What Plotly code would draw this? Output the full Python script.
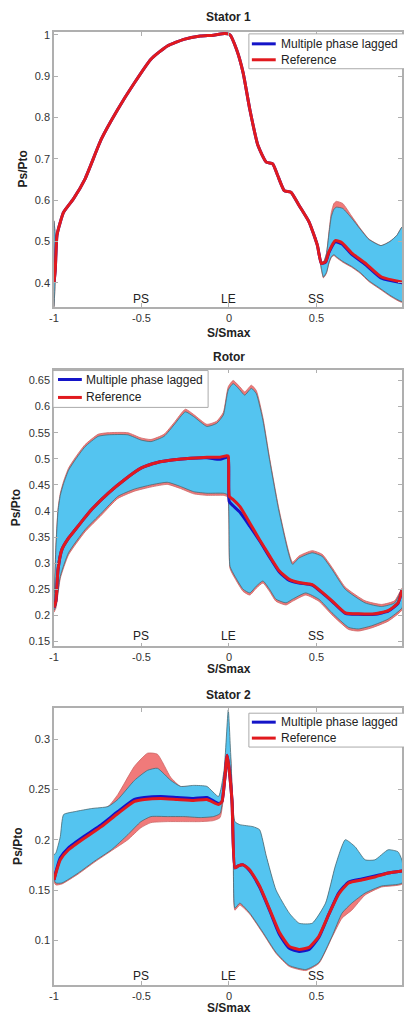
import plotly.graph_objects as go

# ---------------- data ----------------
# Stator 1
s1_xm = [-1.0, -0.993, -0.983, -0.964, -0.945, -0.889, -0.823, -0.729, -0.635, -0.54, -0.446, -0.352,
         -0.258, -0.164, -0.089, -0.023, 0.006, 0.043, 0.081, 0.119, 0.166, 0.213, 0.25, 0.279, 0.316,
         0.354, 0.401, 0.458, 0.505, 0.528, 0.552, 0.571, 0.608, 0.646, 0.702, 0.778, 0.872, 0.99]
s1_ref = [0.40, 0.43, 0.515, 0.547, 0.571, 0.603, 0.651, 0.748, 0.820, 0.884, 0.941, 0.973,
          0.989, 0.997, 0.999, 1.003, 1.0, 0.965, 0.908, 0.820, 0.732, 0.692, 0.688, 0.659, 0.623,
          0.619, 0.587, 0.547, 0.491, 0.447, 0.451, 0.475, 0.502, 0.497, 0.472, 0.448, 0.414, 0.402]
s1_mpl = [0.40, 0.43, 0.515, 0.547, 0.571, 0.603, 0.651, 0.748, 0.820, 0.884, 0.941, 0.973,
          0.989, 0.997, 0.999, 1.003, 1.0, 0.965, 0.908, 0.820, 0.732, 0.692, 0.688, 0.659, 0.623,
          0.619, 0.587, 0.547, 0.491, 0.447, 0.450, 0.473, 0.499, 0.494, 0.469, 0.445, 0.411, 0.400]
s1_lx = [-1.0, -0.994]
s1_lu = [0.55, 0.52]
s1_ll = [0.34, 0.40]
s1_bx = [0.495, 0.515, 0.528, 0.54, 0.557, 0.572, 0.585, 0.6, 0.614, 0.65, 0.70, 0.75, 0.80, 0.869, 0.92, 0.96, 0.99]
s1_bu = [0.51, 0.478, 0.452, 0.45, 0.47, 0.52, 0.56, 0.578, 0.583, 0.58, 0.557, 0.53, 0.505, 0.49, 0.50, 0.515, 0.535]
s1_ru = [0.51, 0.478, 0.452, 0.45, 0.47, 0.525, 0.57, 0.592, 0.597, 0.592, 0.562, 0.532, 0.506, 0.49, 0.50, 0.515, 0.535]
s1_bl = [0.51, 0.475, 0.435, 0.414, 0.425, 0.45, 0.463, 0.468, 0.463, 0.452, 0.44, 0.425, 0.405, 0.385, 0.37, 0.36, 0.355]
s1_rl = [0.51, 0.475, 0.433, 0.412, 0.423, 0.448, 0.461, 0.466, 0.461, 0.45, 0.438, 0.423, 0.403, 0.383, 0.368, 0.358, 0.353]

# Rotor
r_xm = [-1.0, -0.989, -0.977, -0.955, -0.917, -0.879, -0.832, -0.785, -0.691, -0.597, -0.503, -0.409,
        -0.314, -0.22, -0.126, -0.051, -0.013, -0.004, 0.002, 0.024, 0.062, 0.119, 0.175, 0.232, 0.288,
        0.345, 0.401, 0.476, 0.533, 0.589, 0.665, 0.74, 0.834, 0.91, 0.966, 0.99]
r_ref = [0.215, 0.228, 0.288, 0.326, 0.348, 0.364, 0.384, 0.403, 0.434, 0.46, 0.482, 0.493,
         0.498, 0.501, 0.503, 0.503, 0.506, 0.505, 0.428, 0.422, 0.409, 0.377, 0.345, 0.314, 0.285,
         0.269, 0.263, 0.259, 0.244, 0.228, 0.205, 0.203, 0.203, 0.209, 0.224, 0.25]
r_mpl = [0.215, 0.228, 0.288, 0.326, 0.348, 0.364, 0.384, 0.403, 0.434, 0.46, 0.482, 0.493,
         0.498, 0.501, 0.502, 0.499, 0.503, 0.502, 0.418, 0.410, 0.398, 0.371, 0.343, 0.312, 0.283,
         0.267, 0.262, 0.258, 0.243, 0.227, 0.204, 0.202, 0.202, 0.208, 0.223, 0.25]
r_xu = [-1.0, -0.989, -0.977, -0.964, -0.945, -0.917, -0.879, -0.823, -0.748, -0.691, -0.578, -0.503,
        -0.446, -0.371, -0.314, -0.249, -0.202, -0.126, -0.07, -0.032, -0.004, 0.024, 0.062, 0.09,
        0.128, 0.156, 0.194, 0.232, 0.288, 0.363, 0.401, 0.476, 0.533, 0.589, 0.665, 0.778, 0.872, 0.947, 0.99]
r_bu = [0.22, 0.33, 0.40, 0.43, 0.453, 0.478, 0.498, 0.523, 0.543, 0.546, 0.546, 0.536,
        0.533, 0.543, 0.565, 0.590, 0.581, 0.562, 0.568, 0.584, 0.632, 0.644, 0.632, 0.622,
        0.635, 0.625, 0.574, 0.498, 0.396, 0.298, 0.310, 0.320, 0.313, 0.288, 0.250, 0.224, 0.217, 0.224, 0.25]
r_ru = [0.22, 0.334, 0.404, 0.434, 0.457, 0.482, 0.502, 0.527, 0.547, 0.550, 0.550, 0.540,
        0.537, 0.547, 0.569, 0.595, 0.585, 0.566, 0.572, 0.589, 0.638, 0.650, 0.638, 0.628,
        0.641, 0.631, 0.579, 0.502, 0.400, 0.302, 0.314, 0.324, 0.317, 0.292, 0.254, 0.228, 0.221, 0.228, 0.252]
r_xl = [-1.0, -0.989, -0.964, -0.917, -0.823, -0.729, -0.635, -0.54, -0.446, -0.352, -0.277, -0.202,
        -0.126, -0.032, -0.008, 0.006, 0.034, 0.081, 0.119, 0.156, 0.194, 0.232, 0.269, 0.326, 0.363,
        0.439, 0.514, 0.589, 0.684, 0.74, 0.815, 0.91, 0.99]
r_bl = [0.21, 0.218, 0.275, 0.320, 0.364, 0.396, 0.428, 0.442, 0.450, 0.455, 0.447, 0.437,
        0.434, 0.434, 0.431, 0.294, 0.275, 0.250, 0.243, 0.256, 0.266, 0.250, 0.231, 0.224, 0.231,
        0.243, 0.231, 0.205, 0.177, 0.174, 0.180, 0.193, 0.215]
r_rl = [0.206, 0.214, 0.271, 0.316, 0.360, 0.392, 0.424, 0.438, 0.446, 0.451, 0.443, 0.433,
        0.430, 0.430, 0.427, 0.290, 0.271, 0.246, 0.239, 0.252, 0.262, 0.246, 0.227, 0.220, 0.227,
        0.239, 0.227, 0.201, 0.173, 0.170, 0.176, 0.189, 0.211]

# Stator 2
s2_xm = [-1.0, -0.989, -0.964, -0.917, -0.823, -0.729, -0.635, -0.54, -0.484, -0.39, -0.296, -0.202,
         -0.126, -0.06, -0.04, -0.01, 0.017, 0.034, 0.053, 0.081, 0.119, 0.175, 0.232, 0.288, 0.345,
         0.401, 0.458, 0.514, 0.571, 0.627, 0.684, 0.759, 0.834, 0.91, 0.99]
s2_ref = [0.16, 0.167, 0.180, 0.190, 0.202, 0.213, 0.226, 0.238, 0.240, 0.241, 0.240, 0.239,
          0.240, 0.235, 0.238, 0.284, 0.240, 0.172, 0.174, 0.175, 0.170, 0.154, 0.131, 0.108, 0.094,
          0.091, 0.093, 0.104, 0.126, 0.146, 0.157, 0.160, 0.163, 0.167, 0.169]
s2_mpl = [0.16, 0.168, 0.182, 0.192, 0.204, 0.215, 0.228, 0.240, 0.242, 0.243, 0.242, 0.241,
          0.242, 0.236, 0.238, 0.284, 0.240, 0.172, 0.174, 0.175, 0.169, 0.153, 0.130, 0.106, 0.092,
          0.089, 0.091, 0.103, 0.126, 0.147, 0.158, 0.161, 0.164, 0.167, 0.169]
s2_xu = [-1.0, -0.989, -0.964, -0.945, -0.879, -0.785, -0.691, -0.635, -0.54, -0.465, -0.409, -0.333,
         -0.277, -0.202, -0.126, -0.06, -0.028, -0.004, 0.01, 0.034, 0.062, 0.137, 0.175, 0.213, 0.269,
         0.345, 0.401, 0.476, 0.552, 0.608, 0.665, 0.721, 0.778, 0.834, 0.91, 0.966, 0.99]
s2_bu = [0.185, 0.187, 0.203, 0.225, 0.228, 0.231, 0.233, 0.240, 0.259, 0.269, 0.271, 0.259,
         0.253, 0.254, 0.253, 0.243, 0.269, 0.329, 0.285, 0.218, 0.215, 0.213, 0.210, 0.184, 0.150,
         0.127, 0.117, 0.117, 0.137, 0.174, 0.200, 0.193, 0.180, 0.180, 0.190, 0.188, 0.179]
s2_ru = [0.18, 0.185, 0.195, 0.212, 0.220, 0.228, 0.233, 0.245, 0.273, 0.286, 0.285, 0.262,
         0.253, 0.253, 0.252, 0.242, 0.260, 0.290, 0.280, 0.215, 0.212, 0.210, 0.207, 0.182, 0.148,
         0.125, 0.116, 0.116, 0.135, 0.172, 0.198, 0.190, 0.178, 0.178, 0.188, 0.186, 0.178]
s2_xl = [-1.0, -0.989, -0.955, -0.861, -0.766, -0.672, -0.578, -0.503, -0.446, -0.352, -0.258, -0.164,
         -0.089, -0.051, -0.023, -0.004, 0.024, 0.034, 0.062, 0.119, 0.194, 0.269, 0.345, 0.439, 0.514,
         0.589, 0.646, 0.702, 0.778, 0.872, 0.99]
s2_bl = [0.16, 0.157, 0.157, 0.167, 0.179, 0.190, 0.205, 0.218, 0.223, 0.223, 0.223, 0.222,
         0.223, 0.226, 0.259, 0.279, 0.203, 0.132, 0.137, 0.127, 0.108, 0.088, 0.075, 0.071, 0.078,
         0.104, 0.127, 0.137, 0.147, 0.154, 0.157]
s2_rl = [0.158, 0.155, 0.156, 0.166, 0.178, 0.189, 0.200, 0.212, 0.217, 0.218, 0.218, 0.218,
         0.219, 0.222, 0.255, 0.276, 0.200, 0.130, 0.135, 0.126, 0.107, 0.087, 0.074, 0.070, 0.077,
         0.103, 0.122, 0.130, 0.145, 0.153, 0.156]

titles = ["Stator 1", "Rotor", "Stator 2"]
x_ticks = [-1, -0.5, 0, 0.5]
x_ticktext = ["-1", "-0.5", "0", "0.5"]
s1_yticks = [0.4, 0.5, 0.6, 0.7, 0.8, 0.9, 1.0]
s1_yticktext = ["0.4", "0.5", "0.6", "0.7", "0.8", "0.9", "1"]
r_yticks = [0.15, 0.2, 0.25, 0.3, 0.35, 0.4, 0.45, 0.5, 0.55, 0.6, 0.65]
r_yticktext = ["0.15", "0.2", "0.25", "0.3", "0.35", "0.4", "0.45", "0.5", "0.55", "0.6", "0.65"]
s2_yticks = [0.1, 0.15, 0.2, 0.25, 0.3]
s2_yticktext = ["0.1", "0.15", "0.2", "0.25", "0.3"]
region_labels = ["PS", "LE", "SS"]
region_x = [-0.5, 0, 0.5]
legend_names = ["Multiple phase lagged", "Reference"]

# ---------------- styles ----------------
H = 1016
W = 404
ML = 54
FONT = "Liberation Sans, Arial, sans-serif"
BLUE_FILL = "rgb(84,196,240)"
RED_FILL = "rgb(240,122,122)"
BLUE_LINE = "rgb(20,20,200)"
RED_LINE = "rgb(225,25,30)"
EDGE = "rgb(70,105,115)"
AXC = "rgb(175,175,175)"
SMOOTH = dict(shape="spline", smoothing=0.5)


def py(p):
    return 1 - p / H


def px(p):
    return (p - ML) / (W - ML)


panels = [
    dict(top=29, bot=305, yr=[0.342, 1.007], yt=s1_yticks, ytt=s1_yticktext,
         mean=(s1_xm, s1_ref, s1_mpl),
         bands=[(s1_lx, s1_lu, s1_ll, s1_lu, s1_ll), (s1_bx, s1_bu, s1_bl, s1_ru, s1_rl)],
         title_y=14, xl_y=331, reg_y=297, yl_x=23,
         leg=dict(box=(250, 31, 420, 66), line=(253, 277), rows=(41, 57), tx=280)),
    dict(top=368, bot=646, yr=[0.1405, 0.671], yt=r_yticks, ytt=r_yticktext,
         mean=(r_xm, r_ref, r_mpl),
         bands=[((r_xu, r_xl), r_bu, r_bl, r_ru, r_rl)],
         title_y=355, xl_y=669, reg_y=636, yl_x=16,
         leg=dict(box=(53, 369, 209, 406), line=(58, 82), rows=(378, 396), tx=84)),
    dict(top=708, bot=986, yr=[0.0555, 0.3307], yt=s2_yticks, ytt=s2_yticktext,
         mean=(s2_xm, s2_ref, s2_mpl),
         bands=[((s2_xu, s2_xl), s2_bu, s2_bl, s2_ru, s2_rl)],
         title_y=695, xl_y=1008.5, reg_y=977, yl_x=17,
         leg=dict(box=(250, 713, 420, 747), line=(253, 277), rows=(722, 738), tx=280)),
]

fig = go.Figure()
annotations = []
shapes = []
layout_axes = {}

for i, p in enumerate(panels):
    n = "" if i == 0 else str(i + 1)
    xa, ya = "x" + n, "y" + n
    for band in p["bands"]:
        bx, bu, bl, ru, rl = band
        if isinstance(bx, tuple):
            xu, xl = bx
        else:
            xu, xl = bx, bx
        # reference envelope (below)
        fig.add_trace(go.Scatter(x=list(xu) + list(xl)[::-1], y=list(ru) + list(rl)[::-1],
                                 fill="toself", fillcolor=RED_FILL, mode="lines",
                                 line=dict(color="rgb(205,100,100)", width=0.8, **SMOOTH),
                                 xaxis=xa, yaxis=ya, showlegend=False, hoverinfo="skip"))
        # multiple phase lagged envelope (above)
        fig.add_trace(go.Scatter(x=list(xu) + list(xl)[::-1], y=list(bu) + list(bl)[::-1],
                                 fill="toself", fillcolor=BLUE_FILL, mode="lines",
                                 line=dict(color=EDGE, width=0.8, **SMOOTH),
                                 xaxis=xa, yaxis=ya, showlegend=False, hoverinfo="skip"))
    xm, yref, ympl = p["mean"]
    fig.add_trace(go.Scatter(x=xm, y=ympl, mode="lines", name=legend_names[0], showlegend=False,
                             line=dict(color=BLUE_LINE, width=3, **SMOOTH), xaxis=xa, yaxis=ya))
    fig.add_trace(go.Scatter(x=xm, y=yref, mode="lines", name=legend_names[1], showlegend=False,
                             line=dict(color=RED_LINE, width=3, **SMOOTH), xaxis=xa, yaxis=ya))

    dom = [py(p["bot"]), py(p["top"])]
    common = dict(ticks="inside", ticklen=4, tickcolor=AXC, showline=True, linecolor=AXC,
                  linewidth=1.5, mirror="ticks", showgrid=False, zeroline=False,
                  tickfont=dict(size=11, color="#333", family=FONT))
    layout_axes["xaxis" + n] = dict(domain=[0, 1], range=[-1, 0.989], anchor=ya,
                                    tickvals=x_ticks, ticktext=x_ticktext, **common)
    layout_axes["yaxis" + n] = dict(domain=dom, range=p["yr"], anchor=xa,
                                    tickvals=p["yt"], ticktext=p["ytt"], **common)
    annotations.append(dict(text="<b>%s</b>" % titles[i], x=0, xref=xa, y=py(p["title_y"]),
                            yref="paper", showarrow=False, xanchor="center", yanchor="middle",
                            font=dict(size=12, color="#222", family=FONT)))
    annotations.append(dict(text="<b>S/Smax</b>", x=0, xref=xa, y=py(p["xl_y"]),
                            yref="paper", showarrow=False, xanchor="center", yanchor="middle",
                            font=dict(size=12, color="#222", family=FONT)))
    annotations.append(dict(text="<b>Ps/Pto</b>", x=px(p["yl_x"]), xref="paper",
                            y=(dom[0] + dom[1]) / 2, yref="paper", showarrow=False,
                            xanchor="center", yanchor="middle",
                            textangle=-90, font=dict(size=12, color="#222", family=FONT)))
    for lab, lx in zip(region_labels, region_x):
        annotations.append(dict(text=lab, x=lx, xref=xa, y=py(p["reg_y"]), yref="paper",
                                showarrow=False, xanchor="center", yanchor="middle",
                                font=dict(size=12, color="#222", family=FONT)))
    # legend box (MATLAB-style, inside axes)
    lg = p["leg"]
    bx0, by0, bx1, by1 = lg["box"]
    shapes.append(dict(type="rect", xref="paper", yref="paper",
                       x0=px(bx0), x1=px(bx1), y0=py(by1), y1=py(by0),
                       fillcolor="white", line=dict(color="rgb(170,170,170)", width=1),
                       layer="above"))
    for name, col, ry in zip(legend_names, [BLUE_LINE, RED_LINE], lg["rows"]):
        shapes.append(dict(type="line", xref="paper", yref="paper",
                           x0=px(lg["line"][0]), x1=px(lg["line"][1]), y0=py(ry), y1=py(ry),
                           line=dict(color=col, width=3), layer="above"))
        annotations.append(dict(text=name, x=px(lg["tx"]), xref="paper", y=py(ry), yref="paper",
                                showarrow=False, xanchor="left", yanchor="middle",
                                font=dict(size=12, color="#222", family=FONT)))

fig.update_layout(width=W, height=H, margin=dict(l=ML, r=0, t=0, b=0),
                  paper_bgcolor="white", plot_bgcolor="white", showlegend=False,
                  annotations=annotations, shapes=shapes, font=dict(family=FONT), **layout_axes)

fig.write_html("out.html", config={"displayModeBar": False},
               post_script="document.body.style.margin='0';document.body.style.padding='0';")
